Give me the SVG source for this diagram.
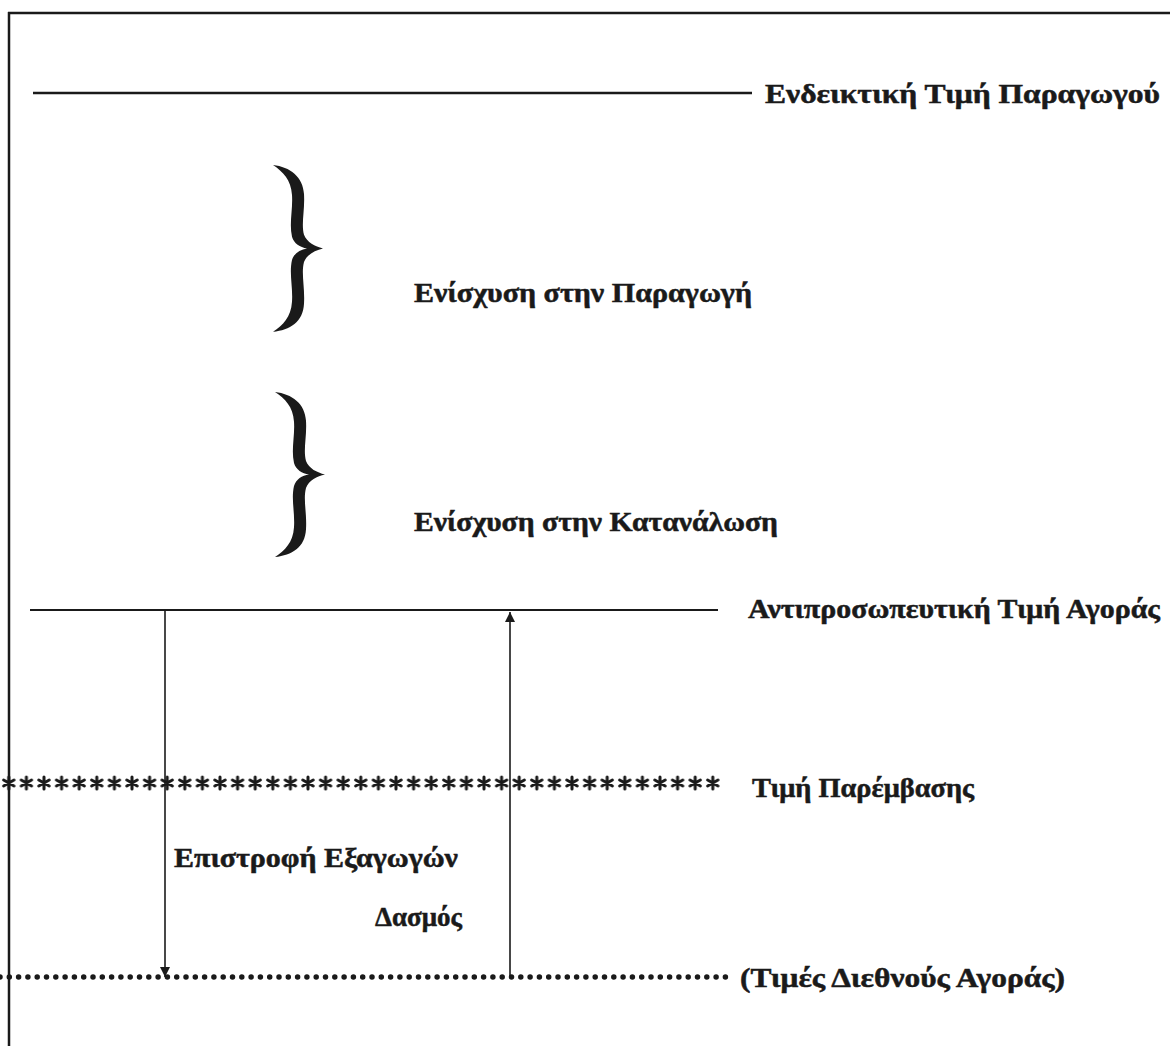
<svg xmlns="http://www.w3.org/2000/svg" width="1170" height="1046" viewBox="0 0 1170 1046">
<style>
  .lbl { font-family: "Liberation Serif", "DejaVu Serif", serif; font-weight: bold; font-size: 27px; fill: #1a1a1a; stroke: #1a1a1a; stroke-width: 0.5; }
  .ln { stroke: #1a1a1a; fill: none; }
  .brace { fill: #1a1a1a; stroke: none; }
</style>
<defs>
  <marker id="arr" viewBox="0 0 10 10" refX="10" refY="5" markerWidth="10" markerHeight="10" markerUnits="userSpaceOnUse" orient="auto">
    <path d="M0,0 L10,5 L0,10 Z" fill="#1a1a1a"/>
  </marker>
  <g id="ast">
    <path d="M0,-6 V6 M-5.2,-3 L5.2,3 M-5.2,3 L5.2,-3" stroke="#1a1a1a" stroke-width="3" stroke-linecap="round"/>
  </g>
  <pattern id="astpat" x="0" y="773" width="17.6" height="20" patternUnits="userSpaceOnUse">
    <use href="#ast" x="8.8" y="10"/>
  </pattern>
  <path id="bracePath" d="M0,0 C17,2 30,12 31,30 C32,47 28,60 31,72 C34,80 42,84 50,86 C42,88 34,92 31,100 C28,112 32,126 31,143 C30,162 17,170 0,172 C10,165 18,157 19,141 C20,125 16,112 19,98 C21,91 27,87 34,86 C27,85 21,81 19,74 C16,60 20,46 19,31 C18,15 10,7 0,0 Z"/>
</defs>

<g id="frame">
  <path class="ln" d="M8,13 H1170" stroke-width="2.5"/>
  <path class="ln" d="M9,12 V1046" stroke-width="2.5"/>
</g>

<g id="connectors">
  <path class="ln" d="M33,93 H752" stroke-width="2.5"/>
  <path class="ln" d="M30,610 H718" stroke-width="2"/>
  <rect x="0" y="773" width="722" height="20" fill="url(#astpat)"/>
  <path class="ln" d="M0,977 H733" stroke-width="5.5" stroke-dasharray="0 9.3" stroke-linecap="round"/>
  <path class="ln" d="M165,610 V977" stroke-width="1.6" marker-end="url(#arr)"/>
  <path class="ln" d="M510,977 V612" stroke-width="1.6" marker-end="url(#arr)"/>
</g>

<g id="brace-production">
  <use href="#bracePath" class="brace" transform="translate(273,165) scale(1,0.97)"/>
</g>
<g id="brace-consumption">
  <use href="#bracePath" class="brace" transform="translate(275,392) scale(1,0.96)"/>
</g>

<g id="label-indicative">
  <text class="lbl" x="765" y="103" textLength="395" lengthAdjust="spacingAndGlyphs">Ενδεικτική Τιμή Παραγωγού</text>
</g>
<g id="label-prod-aid">
  <text class="lbl" x="414" y="302" textLength="338" lengthAdjust="spacingAndGlyphs">Ενίσχυση στην Παραγωγή</text>
</g>
<g id="label-cons-aid">
  <text class="lbl" x="414" y="531" textLength="364" lengthAdjust="spacingAndGlyphs">Ενίσχυση στην Κατανάλωση</text>
</g>
<g id="label-representative">
  <text class="lbl" x="748" y="618" textLength="412" lengthAdjust="spacingAndGlyphs">Αντιπροσωπευτική Τιμή Αγοράς</text>
</g>
<g id="label-intervention">
  <text class="lbl" x="752" y="797" textLength="222" lengthAdjust="spacingAndGlyphs">Τιμή Παρέμβασης</text>
</g>
<g id="label-export-refund">
  <text class="lbl" x="174" y="867" textLength="284" lengthAdjust="spacingAndGlyphs">Επιστροφή Εξαγωγών</text>
</g>
<g id="label-duty">
  <text class="lbl" x="462" y="926" text-anchor="end">Δασμός</text>
</g>
<g id="label-world">
  <text class="lbl" x="740" y="987" textLength="325" lengthAdjust="spacingAndGlyphs">(Τιμές Διεθνούς Αγοράς)</text>
</g>
</svg>
